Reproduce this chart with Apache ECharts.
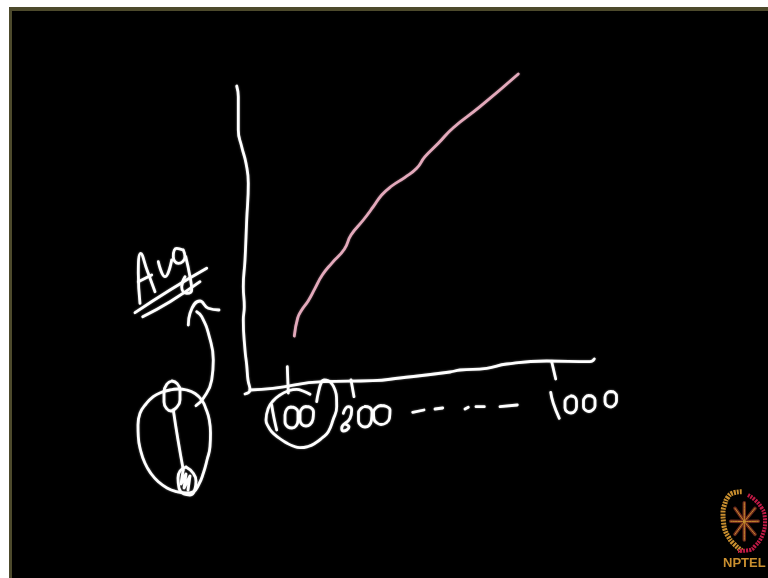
<!DOCTYPE html>
<html>
<head>
<meta charset="utf-8">
<style>
  html, body { margin: 0; padding: 0; background: #fff; }
  #chart { width: 768px; height: 578px; }
</style>
<script src="https://cdn.jsdelivr.net/npm/echarts@6/dist/echarts.min.js"></script>
</head>
<body>
<div id="chart"></div>
<script>
// all strokes, x / y in sketch units (0-768, 0-578)
const yAxisStroke = [[236.7, 86], [238.3, 96.7], [238.3, 130], [241.7, 146.7], [246, 163.3], [248.3, 183.3], [246.7, 220], [245, 260], [243.3, 286.7], [244.3, 306.7], [243.3, 320], [245, 350], [246.7, 365], [248, 380], [250, 390], [245, 394]]
const xAxisStroke = [[250, 390], [273, 388.3], [323, 381.7], [373, 380.7], [400, 378], [450, 372], [460, 370], [486.7, 368.3], [506.7, 364], [546.7, 361], [590, 361.7], [594.3, 359]]
const curveValues = [[294.3, 336], [297.7, 318], [301.7, 310], [308.3, 300.7], [315, 288.3], [322.3, 275], [331.7, 263.3], [344.3, 249.3], [351, 235], [363.3, 220], [373.3, 206.7], [381.7, 195], [391.7, 186], [405, 177.3], [416.7, 168.3], [425, 156.7], [438.3, 143.3], [453.3, 127.7], [480, 106.7], [518.3, 74]]

const tick100 = [[287.3, 366.7], [288.3, 393]]
const tick200 = [[351, 380], [354, 396.7]]
const tick1000 = [[551.7, 361.7], [555.7, 379]]

const label100One = [[271.7, 405], [274, 418], [276.7, 430]]
const label100ZeroA = [[291, 407], [287, 409], [285, 415], [285, 422], [288, 427], [292, 428], [296, 426], [298, 420], [298, 412], [295, 408], [291, 407]]
const label100ZeroB = [[306, 406.5], [302, 408.5], [300, 413], [300, 420], [302, 424.5], [306, 426], [310, 424.5], [313, 419], [313.5, 412], [310.5, 407.5], [306, 406.5]]
const label100Loop = [[310, 394.3], [303, 391], [296.7, 389.3], [288, 391], [280, 395], [273, 401], [268.3, 408.3], [266, 420], [268, 426], [271.7, 431.7], [279, 438], [286.7, 443], [293, 446], [300, 447.7], [308, 446.5], [315, 443.3], [322, 438], [328.3, 431.7], [333, 420], [336.7, 406.7], [336.5, 397], [335, 390], [332, 384], [328.3, 380.7], [324, 380], [321.7, 381.7], [318.5, 392], [316.7, 401.7]]

const label200Two = [[343.3, 413.3], [345.5, 408.5], [348.3, 406.7], [351.7, 410], [350, 418.3], [341.7, 428.3], [343, 431], [346.7, 430], [349, 427], [345, 424]]
const label200ZeroA = [[365, 406.5], [361, 408.5], [358.5, 413], [358.5, 421], [361, 425.5], [365, 427], [369, 425.5], [371.5, 420], [372, 412], [369.5, 407.5], [365, 406.5]]
const label200ZeroB = [[381, 405.5], [376.5, 407.5], [373.5, 412], [374, 419], [377, 423], [381, 424.5], [386, 423], [389.5, 418], [390, 410], [386.5, 406.5], [381, 405.5]]

const dashStrokes = [
  [[412.7, 412.3], [424, 410]],
  [[435, 409], [442.7, 408]],
  [[465, 409], [468.3, 407.3]],
  [[476, 406.7], [484.3, 406.7]],
  [[500, 406.7], [517.3, 405]]
]

const label1000One = [[550.7, 392.3], [553.3, 403.3], [559.3, 418.3]]
const label1000ZeroA = [[571, 396], [567, 398], [565, 402], [565, 408], [567.5, 412], [571, 413], [574.5, 411.5], [576.5, 407], [576.5, 401], [574.5, 397], [571, 396]]
const label1000ZeroB = [[589, 395.5], [585.5, 397], [583.5, 401], [583.5, 407], [586, 410.5], [589, 411.5], [592.5, 410], [595, 406], [595, 400], [592.5, 396.5], [589, 395.5]]
const label1000ZeroC = [[611, 391.5], [607, 393], [605, 397], [605, 402], [607.5, 406], [611, 407], [614.5, 405], [616.5, 401], [616.5, 396], [614.5, 392.5], [611, 391.5]]

const avgA = [[140, 303.3], [138.3, 273.3], [140.7, 253.3], [147, 270], [155, 291.7]]
const avgACross = [[138.3, 281.7], [151.7, 275]]
const avgV = [[158.3, 261.7], [165, 276.7], [171.7, 260]]
const avgGLoop = [[183.3, 250], [176.7, 248.3], [173.3, 256.7], [178.3, 263.3], [185, 256.7], [183.3, 250]]
const avgGTail = [[185.7, 256.7], [190, 276.7], [191.7, 290], [186.7, 293.3], [181.7, 286.7], [185, 276.7]]
const underlineTop = [[135, 312.7], [170, 290], [206.7, 268.3]]
const underlineBottom = [[142.7, 316.7], [170, 301.7], [200, 281.7]]

const arrowShaft = [[196, 405.7], [203.3, 398.3], [211.7, 380], [213.3, 360], [209.3, 336.7], [201.7, 316.7], [196.7, 311.7]]
const arrowHead = [[188.3, 325], [190, 313.3], [200, 301], [208.3, 308.3], [219, 310]]

const bigCircle = [[170, 390], [161, 392.5], [153.3, 396.7], [146, 404], [140, 413.3], [138, 425], [138.3, 436.7], [140.5, 450], [145, 463.3], [151, 473.5], [158.3, 481.7], [167, 488], [176.7, 491.7], [186, 493], [193.3, 491.7], [199, 484], [203.3, 473.3], [207, 460], [210, 446.7], [210.5, 433], [209.3, 420], [206, 409], [201.7, 400], [195, 393.5], [186.7, 390], [178, 389], [170, 390]]
const smallOvalTop = [[172, 381], [167, 384], [164, 392], [164, 402], [167, 409], [171, 411], [176, 408], [180, 400], [180, 390], [177, 383.5], [172, 381]]
const smallOvalBottom = [[186, 467], [180, 471], [178, 478], [179, 488], [184, 494], [190, 495], [195, 489], [196, 481], [193, 473], [186, 467]]
const ovalScribble = [[183, 471], [181, 484], [186, 474], [184, 488], [190, 476], [188, 490]]
const chord = [[173.3, 410], [178, 440], [183.3, 470]]

const logoGoldArc = [[741.7, 491.7], [733, 493], [728, 497], [724.5, 505], [723, 513], [723.5, 522], [725, 530], [728.5, 537], [733, 543], [741.7, 550.7]]
const logoRedArc = [[748, 495], [755, 500], [761.7, 508], [764.5, 515], [765, 523], [763.5, 532], [760, 540], [755.5, 545.5], [750, 550], [738, 551]]
const logoCentre = [744.3, 521.5]
const logoSpokeTips = [[744.3, 502.7], [744.3, 540], [730.7, 521.3], [758.3, 521.3], [735, 508.3], [755, 508.3], [735, 534.3], [755, 534.3]]
const logoText = 'NPTEL'

const whiteStrokes = [
  yAxisStroke, xAxisStroke, tick100, tick200, tick1000,
  label100One, label100ZeroA, label100ZeroB, label100Loop,
  label200Two, label200ZeroA, label200ZeroB,
  ...dashStrokes,
  label1000One, label1000ZeroA, label1000ZeroB, label1000ZeroC,
  avgA, avgACross, avgV, avgGLoop, avgGTail, underlineTop, underlineBottom,
  arrowShaft, arrowHead, bigCircle, smallOvalTop, smallOvalBottom, ovalScribble, chord
]

const stroke = (data, color, width, extra) => ({
  type: 'line',
  data,
  smooth: 0.5,
  symbol: 'none',
  silent: true,
  clip: false,
  lineStyle: { color, width, cap: 'round', join: 'round', ...extra }
})

const series = [
  ...whiteStrokes.map(s => stroke(s, '#ffffff', 2.8, { shadowBlur: 2, shadowColor: 'rgba(255,255,255,0.5)' })),
  stroke(curveValues, '#e3a9bb', 2.8, { shadowBlur: 2, shadowColor: 'rgba(227,169,187,0.5)' }),
  stroke(logoGoldArc, '#c98f2f', 5, { type: [2, 1], cap: 'butt' }),
  stroke(logoRedArc, '#c01a46', 4, { type: [2, 1], cap: 'butt' }),
  ...logoSpokeTips.map(t => stroke([logoCentre, t], '#6e2a1c', 3.5)),
  ...logoSpokeTips.map(t => stroke([logoCentre, t], '#c98f2f', 1)),
  {
    type: 'scatter',
    data: [logoCentre],
    symbolSize: 5,
    silent: true,
    itemStyle: { color: '#d8203f' }
  }
]

const chart = echarts.init(document.getElementById('chart'))
chart.setOption({
  backgroundColor: '#fff',
  animation: false,
  grid: { left: 0, right: 0, top: 0, bottom: 0 },
  xAxis: { type: 'value', min: 0, max: 768, show: false },
  yAxis: { type: 'value', min: 0, max: 578, inverse: true, show: false },
  graphic: [
    // slide frame: olive edge, black board
    { type: 'rect', z: -2, shape: { x: 9, y: 7, width: 759, height: 571 }, style: { fill: '#4d4a2c' } },
    { type: 'rect', z: -1, shape: { x: 12, y: 11, width: 756, height: 567 }, style: { fill: '#000' } },
    {
      type: 'text',
      left: 723,
      top: 557,
      style: {
        text: logoText,
        fill: '#c98f2f',
        font: 'bold 13px "Liberation Sans", sans-serif'
      }
    }
  ],
  series
})
</script>
</body>
</html>
